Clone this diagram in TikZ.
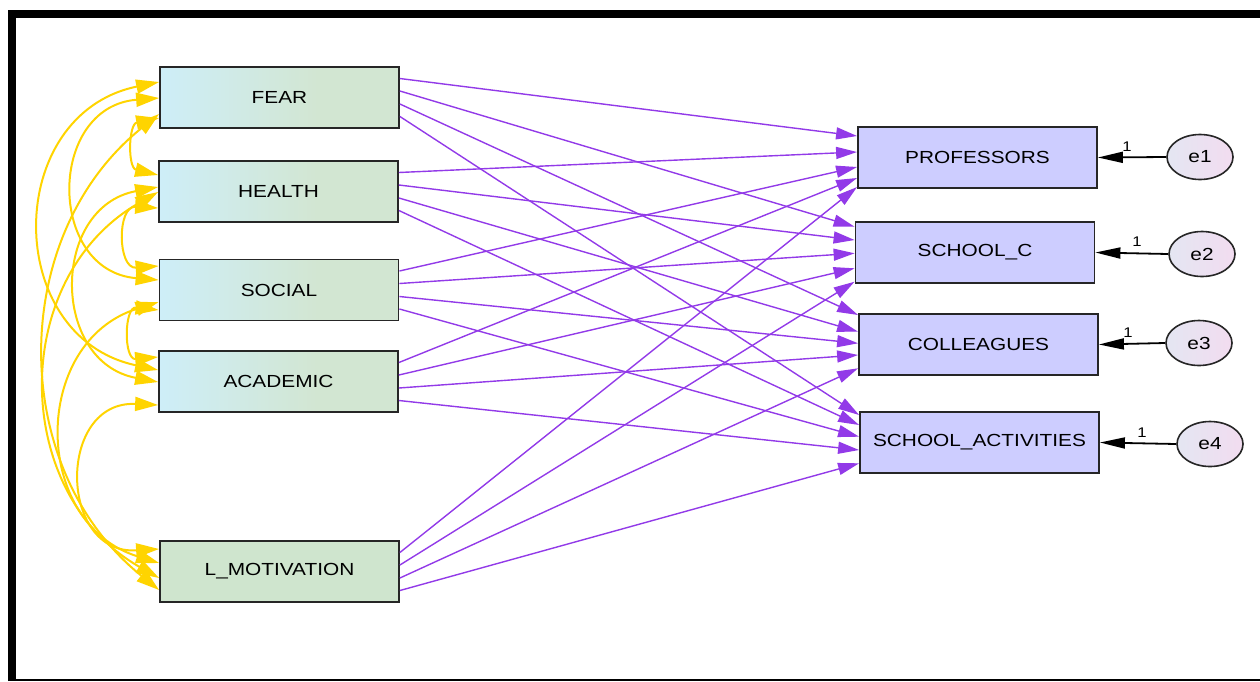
\documentclass[tikz,border=0pt]{standalone}
\usepackage{fontspec}
\setmainfont{Liberation Sans}
\usetikzlibrary{arrows.meta,calc,shapes.geometric}
\definecolor{covcol}{RGB}{255,212,0}
\definecolor{pathcol}{RGB}{146,58,232}
\definecolor{exoA}{RGB}{206,238,248}
\definecolor{exoB}{RGB}{210,230,210}
\definecolor{motcol}{RGB}{207,229,206}
\definecolor{endocol}{RGB}{205,205,255}
\definecolor{errA}{RGB}{228,230,242}
\definecolor{errB}{RGB}{242,220,240}
\pgfdeclarehorizontalshading{exoshade}{100bp}{color(0bp)=(exoA); color(25bp)=(exoA); color(58bp)=(exoB); color(100bp)=(exoB)}
% wide sans lettering
\newcommand{\wtext}[1]{\scalebox{1.19}[1]{#1}}
% covariance arc: from node, y offset, to node, y offset, bend angle, looseness
\newcommand{\cov}[6]{\draw[covarc] ($(#1.west)+(0,#2)$) to[bend right=#5, looseness=#6] ($(#3.west)+(0,#4)$);}
\begin{document}
\begin{tikzpicture}[x=1pt,y=-1pt,
  box/.style={draw=black!85, line width=1.8pt, minimum width=239pt, minimum height=61pt,
    inner sep=0pt, font=\fontsize{17.5}{20}\selectfont},
  exo/.style={box, shading=exoshade},
  motbox/.style={box, fill=motcol},
  endo/.style={box, fill=endocol},
  errnode/.style={ellipse, draw=black!85, line width=1.6pt, minimum width=66pt, minimum height=45pt,
    inner sep=0pt, left color=errA, right color=errB, font=\fontsize{17.5}{20}\selectfont},
  pth/.style={draw=pathcol, line width=1.4pt, -{Triangle[length=21pt,width=12pt]}},
  covarc/.style={draw=covcol, line width=2pt, {Triangle[length=23pt,width=14pt]}-{Triangle[length=23pt,width=14pt]}},
  errarrow/.style={draw=black, line width=1.8pt, -{Triangle[length=25pt,width=11pt]}},
  one/.style={font=\fontsize{14}{16}\selectfont, inner sep=0pt}]
\useasboundingbox (0,0) rectangle (1260,681);

% frame
\draw[line width=8pt, line join=miter] (12,681) -- (12,14) -- (1260,14);
\draw[line width=2pt] (8,680) -- (1260,680);

% predictors
\node[exo] (fear) at (279.5,97.5) {\wtext{FEAR}};
\node[exo] (health) at (278.5,191.5) {\wtext{HEALTH}};
\node[exo] (social) at (279,290) {\wtext{SOCIAL}};
\node[exo] (academic) at (278.5,381.5) {\wtext{ACADEMIC}};
\node[motbox] (lmot) at (279.5,571.5) {\wtext{L\_MOTIVATION}};

% outcomes
\node[endo] (prof) at (977.5,157.5) {\wtext{PROFESSORS}};
\node[endo] (schc) at (975,252.5) {\wtext{SCHOOL\_C}};
\node[endo] (coll) at (978.5,344.5) {\wtext{COLLEAGUES}};
\node[endo] (sact) at (979.5,442.5) {\wtext{SCHOOL\_ACTIVITIES}};

% error terms
\node[errnode] (e1) at (1200,157) {\wtext{e1}};
\node[errnode] (e2) at (1202,254) {\wtext{e2}};
\node[errnode] (e3) at (1199,343) {\wtext{e3}};
\node[errnode] (e4) at (1210,444) {\wtext{e4}};

% regression paths
\foreach \dst/\so/\fa/\fb/\fc/\fd/\fe in {
  prof/-19/-21.5/-5.5/9.5/20.5/29.5,
  schc/-6.5/-25.8/-12.5/0.8/15.8/29.2,
  coll/6.5/-29.5/-12.8/-1.2/10.5/23.8,
  sact/19/-27.5/-17.5/-5.8/7.5/20.8}
{
  \draw[pth] ($(fear.east)+(0,\so)$) -- ($(\dst.west)+(0,\fa)$);
  \draw[pth] ($(health.east)+(0,\so)$) -- ($(\dst.west)+(0,\fb)$);
  \draw[pth] ($(social.east)+(0,\so)$) -- ($(\dst.west)+(0,\fc)$);
  \draw[pth] ($(academic.east)+(0,\so)$) -- ($(\dst.west)+(0,\fd)$);
  \draw[pth] ($(lmot.east)+(0,\so)$) -- ($(\dst.west)+(0,\fe)$);
}

% error paths
\draw[errarrow] (e1.west) -- (prof.east);
\draw[errarrow] (e2.west) -- (schc.east);
\draw[errarrow] (e3.west) -- (coll.east);
\draw[errarrow] (e4.west) -- (sact.east);
\node[one] (w1) at (1127,147) {\wtext{1}};
\node[one] (w2) at (1137,242) {\wtext{1}};
\node[one] (w3) at (1128,333) {\wtext{1}};
\node[one] (w4) at (1142,433) {\wtext{1}};

% covariances
\cov{fear}{-15.5}{academic}{-11.5}{78.2}{1.414}
\cov{fear}{0.5}{social}{-10}{85.4}{1.576}
\cov{fear}{16.5}{lmot}{18.5}{51.2}{1.047}
\cov{fear}{20.5}{health}{-16.5}{77.8}{1.406}
\cov{health}{-4.5}{academic}{0.5}{79.4}{1.438}
\cov{health}{0.5}{lmot}{6.5}{60.2}{1.137}
\cov{health}{16.5}{social}{-24}{93.8}{1.824}
\cov{social}{20}{academic}{-24.5}{95.8}{1.894}
\cov{social}{12}{lmot}{-8.5}{72.7}{1.311}
\cov{academic}{23.5}{lmot}{-22.5}{93.1}{1.798}
\end{tikzpicture}
\end{document}
